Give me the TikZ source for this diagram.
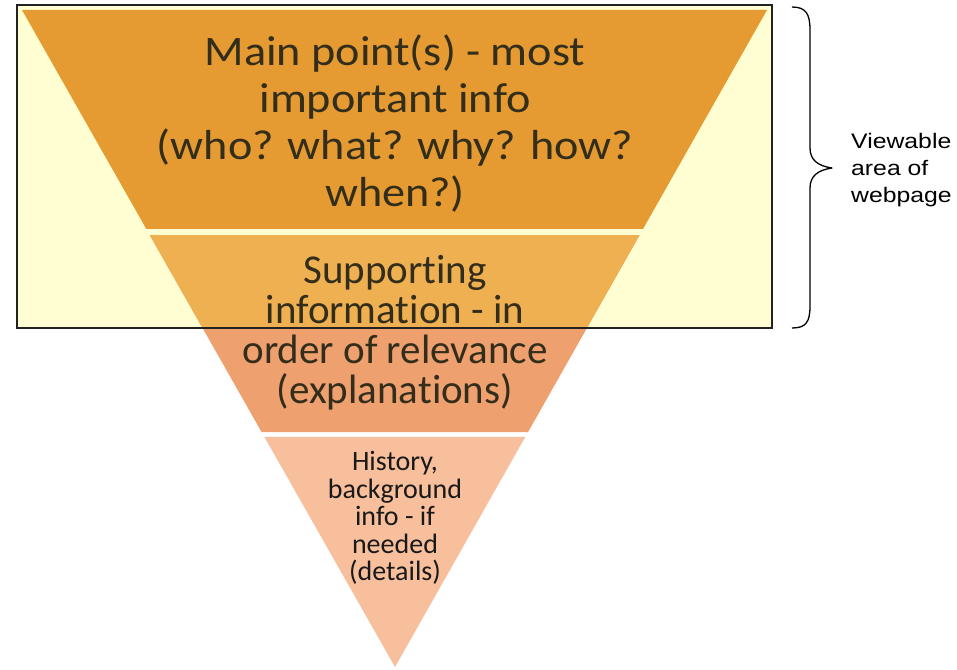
\documentclass[tikz,border=0pt]{standalone}
\usepackage{fontspec}
\newfontfamily\calfont[FakeStretch=1.1,Ligatures=NoCommon]{Carlito}
\newfontfamily\calplain[Ligatures=NoCommon]{Carlito}
\newfontfamily\arialfont[FakeStretch=1.18]{Liberation Sans}
\usetikzlibrary{calc}
\definecolor{paleyellow}{HTML}{FFFED2}
\definecolor{bandone}{HTML}{E59B32}
\definecolor{bandtwoin}{HTML}{EFB052}
\definecolor{bandtwoout}{HTML}{EEA06F}
\definecolor{bandthree}{HTML}{F8BF9D}
\definecolor{txtdark}{HTML}{332D1C}
\definecolor{rimgray}{HTML}{222222}
\tikzset{
  bandtext/.style={inner sep=0pt, align=center, text=txtdark},
  sidetext/.style={inner sep=0pt, align=left, text=black, anchor=west},
}
\begin{document}
\begin{tikzpicture}[x=1pt,y=-1pt]
\useasboundingbox (0,0) rectangle (957,669);
\fill[white] (0,0) rectangle (957,669);
% key points of the inverted triangle
\coordinate (TL) at (22,10);
\coordinate (TR) at (767,10);
\coordinate (AP) at (395,667);
% band boundaries (fractions of the height from top to apex)
\coordinate (b1L) at ($(TL)!0.3333!(AP)$);
\coordinate (b1R) at ($(TR)!0.3333!(AP)$);
\coordinate (b2La) at ($(TL)!0.3425!(AP)$);
\coordinate (b2Ra) at ($(TR)!0.3425!(AP)$);
\coordinate (b2Lb) at ($(TL)!0.6423!(AP)$);
\coordinate (b2Rb) at ($(TR)!0.6423!(AP)$);
\coordinate (b3L) at ($(TL)!0.6499!(AP)$);
\coordinate (b3R) at ($(TR)!0.6499!(AP)$);
% viewable area rectangle
\coordinate (RA) at (17,5);
\coordinate (RB) at (772,328);
\fill[paleyellow] (RA) rectangle (RB);
% bands
\fill[bandone] (TL) -- (TR) -- (b1R) -- (b1L) -- cycle;
\fill[bandtwoout] (b2La) -- (b2Ra) -- (b2Rb) -- (b2Lb) -- cycle;
\begin{scope}
  \clip (RA) rectangle (RB);
  \fill[bandtwoin] (b2La) -- (b2Ra) -- (b2Rb) -- (b2Lb) -- cycle;
\end{scope}
\fill[bandthree] (b3L) -- (b3R) -- (AP) -- cycle;
\draw[rimgray, line width=2pt] (RA) rectangle (RB);
% texts
\node[bandtext, font=\calfont\fontsize{42}{47}\selectfont] (main) at (395,124)
  {Main point(s) - most\\important info\\(who? what? why? how?\\when?)};
\node[bandtext, font=\calplain\fontsize{41}{40}\selectfont] (support) at (395,333)
  {Supporting\\information - in\\order of relevance\\(explanations)};
\node[bandtext, text=black!90, font=\calplain\fontsize{28}{27.5}\selectfont] (history) at (395,518)
  {History,\\background\\info - if\\needed\\(details)};
\node[sidetext, font=\arialfont\fontsize{21}{27}\selectfont] (viewable) at (851,170)
  {Viewable\\area of\\webpage};
% brace
\coordinate (brtop) at (792,7);
\coordinate (brbot) at (792,328);
\coordinate (brtip) at (832,168);
\draw[black, line width=1.3pt, line join=round]
  (brtop) .. controls (806,7) and (810,14) .. (810,30)
  -- (810,148) .. controls (810,160) and (818,166) .. (brtip)
  .. controls (818,170) and (810,176) .. (810,188)
  -- (810,306) .. controls (810,322) and (806,328) .. (brbot);
\end{tikzpicture}
\end{document}
